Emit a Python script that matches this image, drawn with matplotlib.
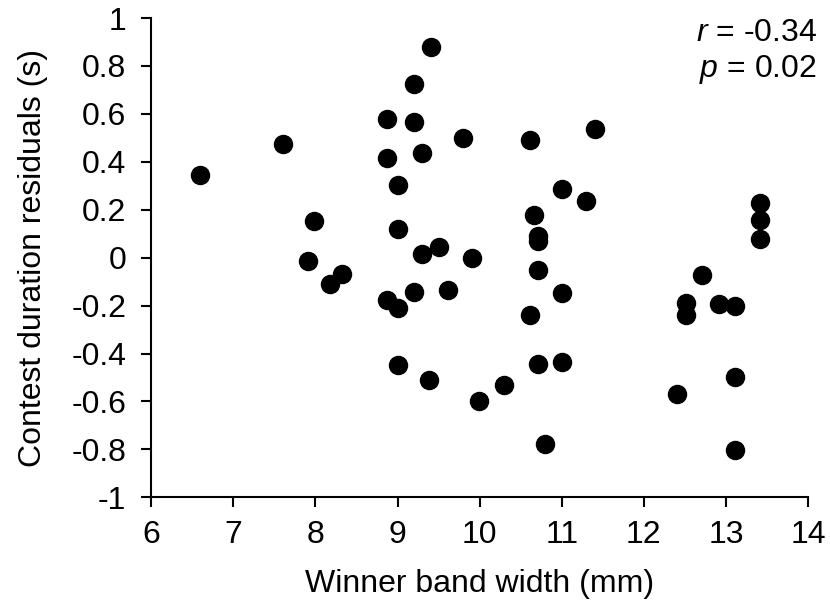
import matplotlib
matplotlib.use('Agg')
import matplotlib.pyplot as plt

plt.rcParams['font.family'] = ['Liberation Sans', 'DejaVu Sans']
plt.rcParams['mathtext.fontset'] = 'custom'
plt.rcParams['mathtext.rm'] = 'Liberation Sans'
plt.rcParams['mathtext.it'] = 'Liberation Sans:italic'

# ancho de banda del ganador (mm)
band_width = [6.59, 7.61, 7.91, 7.98, 8.18, 8.32, 8.87, 8.87, 8.87, 9.00,
              9.00, 9.01, 9.00, 9.20, 9.20, 9.20, 9.30, 9.30, 9.38, 9.41,
              9.50, 9.61, 9.80, 9.91, 9.99, 10.30, 10.61, 10.61, 10.66, 10.71,
              10.71, 10.71, 10.71, 10.80, 11.00, 11.00, 11.00, 11.30, 11.41, 12.41,
              12.51, 12.51, 12.71, 12.91, 13.11, 13.11, 13.11, 13.41, 13.41, 13.41]
# residuos de duracion del combate (s)
residuals = [0.346, 0.474, -0.012, 0.153, -0.110, -0.067, 0.580, 0.415, -0.175, 0.303,
             0.121, -0.210, -0.447, 0.725, 0.568, -0.142, 0.436, 0.017, -0.511, 0.880,
             0.045, -0.136, 0.500, -0.002, -0.596, -0.532, 0.489, -0.239, 0.179, 0.090,
             0.070, -0.050, -0.442, -0.778, 0.288, -0.147, -0.436, 0.238, 0.538, -0.568,
             -0.189, -0.239, -0.072, -0.193, -0.203, -0.499, -0.803, 0.228, 0.158, 0.078]

xticks = [6, 7, 8, 9, 10, 11, 12, 13, 14]
yticks = [-1, -0.8, -0.6, -0.4, -0.2, 0, 0.2, 0.4, 0.6, 0.8, 1]
ylabels = ['-1', '-0.8', '-0.6', '-0.4', '-0.2', '0', '0.2', '0.4', '0.6', '0.8', '1']

fig = plt.figure(figsize=(8.3, 6.13), dpi=100)
ax = fig.add_axes([0.1823, 0.1887, 0.7912, 0.7819])

ax.plot(band_width, residuals, 'o', color='black', ms=13, clip_on=False)

ax.set_xlim(6, 14)
ax.set_ylim(-1, 1)
ax.set_xticks(xticks)
ax.set_yticks(yticks)
ax.set_yticklabels(ylabels)

ax.spines['top'].set_visible(False)
ax.spines['right'].set_visible(False)
for s in ['left', 'bottom']:
    ax.spines[s].set_linewidth(1.5)
ax.tick_params(direction='out', length=7, width=1.5, labelsize=23)
ax.tick_params(axis='x', pad=9)
ax.tick_params(axis='y', pad=11)

ax.set_xlabel('Winner band width (mm)', fontsize=23, labelpad=14)
ax.set_ylabel('Contest duration residuals (s)', fontsize=23, labelpad=17)

ax.text(1.0137, 1.0, '$r$ = -0.34\n$p$ = 0.02', transform=ax.transAxes,
        ha='right', va='top', fontsize=23, linespacing=1.2)

fig.savefig('out.png', dpi=100)
